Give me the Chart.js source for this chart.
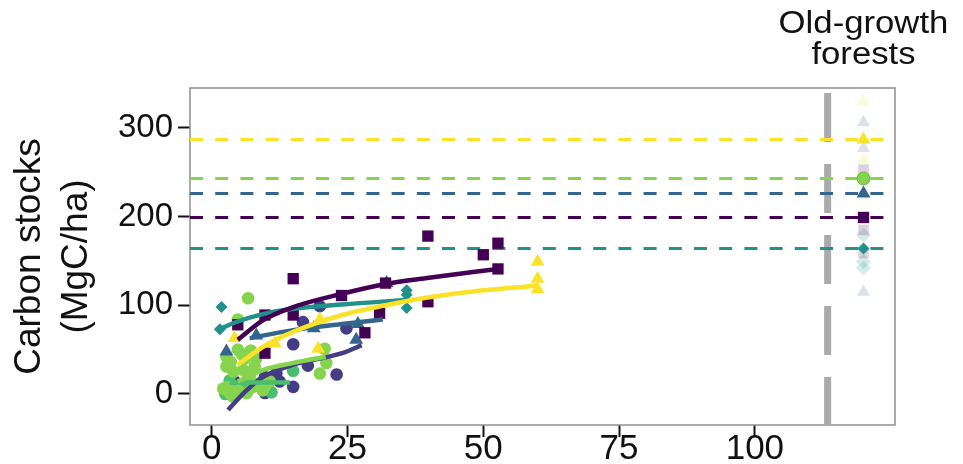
<!DOCTYPE html>
<html>

<head>
  <title>Carbon stocks in secondary vs old-growth forests</title>
  <script src="https://cdn.jsdelivr.net/npm/chart.js"></script>
  <style>
    html, body { margin: 0; padding: 0; background: #fff; }
  </style>
</head>

<body>
  <canvas id="stocks" width="963" height="464"></canvas>
  <script>
    // axes
    const xTicks = [0, 25, 50, 75, 100];
    const yTicks = [0, 100, 200, 300];
    const xRange = [-4, 125.8];
    const yRange = [-35, 345];

    // secondary forest plots (stand age, carbon stock)
    const purpleX = [4.8, 9.8, 9.8, 15, 15, 23.9, 28.2, 30.9, 32, 39.8, 39.8, 50, 52.7, 52.7];
    const purpleY = [78, 89, 46, 130, 89, 111, 69, 91, 125, 104, 178, 157, 170, 141];
    const indigoX = [4.2, 6.4, 7.9, 9.8, 9.8, 11.9, 12.5, 15, 15, 16.8, 17.7, 19.9, 23, 24.8];
    const indigoY = [14, 2, 10, 1, 19, 23, 14, 8, 56, 81, 32, 99, 22, 74];
    const blueX = [2.7, 8.2, 18.8, 26.6, 26.9, 32.2];
    const blueY = [48, 66, 74, 61, 79, 125];
    const tealX = [1.5, 1.8, 35.9, 35.9, 35.9];
    const tealY = [73, 98, 97, 112, 117];
    const midGreenX = [2.5, 3.3, 5.5, 11, 15];
    const midGreenY = [0, 15, 9, 2, 26];
    const greenX = [2.1, 2.7, 2.7, 3, 3.3, 3.5, 3.9, 4, 4.8, 4.8, 4.8, 5.5, 5.8, 6.1, 6.4, 6.5, 6.7, 7, 7.2,
      7.6, 7.9, 8.2, 8.8, 9.4, 9.8, 10.7, 19.9, 20.8, 21.1];
    const greenY = [6, 42, 31, 8, 1, 36, -3, 25, 84, 50, 4, 45, 27, 40, 1, 24, 108, 19, 49,
      8, 31, 40, 12, 4, 9, 14, 23, 51, 35];
    const yellowX = [4.2, 11.6, 19.6, 19.9, 60, 60, 60];
    const yellowY = [63, 57, 51, 84, 118, 130, 149];

    // fitted recovery curves
    const purpleFitX = [4.8, 9.4, 15, 24, 32, 40, 52.7];
    const purpleFitY = [61, 83, 98, 113, 124, 131, 141];
    const indigoFitX = [3, 6.4, 9.4, 15, 24, 27.6];
    const indigoFitY = [-18, 4, 19, 33, 46, 55];
    const blueFitX = [7, 15, 24, 31.5];
    const blueFitY = [63, 72, 79, 84];
    const tealFitX = [1.5, 4, 9.4, 15, 24, 36];
    const tealFitY = [73, 80, 90, 96, 101, 106];
    const midGreenFitX = [3.3, 14.4];
    const midGreenFitY = [13, 13];
    const greenFitX = [4.8, 9.4, 15, 21];
    const greenFitY = [14, 27, 35, 42];
    const yellowFitX = [4.8, 9.4, 15, 24, 32, 40, 50, 60];
    const yellowFitY = [33, 53, 70, 89, 100, 109, 117, 122];

    // old-growth reference forests
    const oldGrowthX = 120;
    const dividerX = 113.4;
    const oldGrowthMeans = [287, 243, 226, 199, 164]; // yellow, green, blue, purple, teal
    const oldYellowSites = [330, 264];
    const oldBlueSites = [306, 277, 115];
    const oldPurpleSites = [253, 185, 159];
    const oldTealSites = [179, 149, 142];
    const oldGrowthTitle = ['Old-growth', 'forests'];

    const FONT = '"Liberation Sans", Arial, sans-serif';
    const pts = (xs, ys) => xs.map((x, i) => ({ x: x, y: ys[i] }));
    const col = { yellow: '#fae228', green: '#86d44e', midGreen: '#48be6e', blue: '#33658d', purple: '#440154', teal: '#22908b', indigo: '#433d85' };
    const meanColors = [col.yellow, col.green, col.blue, col.purple, col.teal];
    const meanStyles = ['triangle', 'circle', 'triangle', 'rect', 'rectRot'];
    const meanRadius = [8, 6.5, 8, 8, 6];
    const fade = (hex, a) => {
      const n = parseInt(hex.slice(1), 16);
      return `rgba(${n >> 16},${(n >> 8) & 255},${n & 255},${a})`;
    };

    const datasets = [];

    // divider between secondary and old-growth forests
    datasets.push({
      data: [{ x: dividerX, y: yRange[1] }, { x: dividerX, y: yRange[0] }],
      showLine: true, borderColor: '#aaaaaa', borderWidth: 7, borderDash: [49, 22], borderDashOffset: 66,
      pointRadius: 0, order: 9
    });

    // dashed lines at the old-growth means
    oldGrowthMeans.forEach((v, i) => {
      datasets.push({
        data: [{ x: xRange[0], y: v }, { x: xRange[1], y: v }],
        showLine: true, borderColor: meanColors[i], borderWidth: 3, borderDash: [13, 12.2],
        pointRadius: 0, order: 8
      });
    });

    // plot markers
    const groups = [
      [indigoX, indigoY, col.indigo, 'circle', 6.3],
      [midGreenX, midGreenY, col.midGreen, 'circle', 6.3],
      [greenX, greenY, col.green, 'circle', 6.3],
      [tealX, tealY, col.teal, 'rectRot', 6],
      [blueX, blueY, col.blue, 'triangle', 8],
      [purpleX, purpleY, col.purple, 'rect', 8],
      [yellowX, yellowY, col.yellow, 'triangle', 8]
    ];
    groups.forEach((g, i) => {
      datasets.push({
        data: pts(g[0], g[1]), pointStyle: g[3], pointRadius: g[4],
        pointBackgroundColor: g[2], pointBorderColor: g[2], pointBorderWidth: 0, order: 7 - i * 0.1
      });
    });

    // fitted curves
    const fits = [
      [indigoFitX, indigoFitY, col.indigo],
      [midGreenFitX, midGreenFitY, col.midGreen],
      [greenFitX, greenFitY, col.green],
      [tealFitX, tealFitY, col.teal],
      [blueFitX, blueFitY, col.blue],
      [purpleFitX, purpleFitY, col.purple],
      [yellowFitX, yellowFitY, col.yellow]
    ];
    fits.forEach((f, i) => {
      datasets.push({
        data: pts(f[0], f[1]), showLine: true, borderColor: f[2], borderWidth: 4.5,
        cubicInterpolationMode: 'monotone', pointRadius: 0, order: 5 - i * 0.1
      });
    });

    // old-growth sites (faded) and means
    [[oldYellowSites, col.yellow, 'triangle'], [oldBlueSites, col.blue, 'triangle'],
     [oldPurpleSites, col.purple, 'rect'], [oldTealSites, col.teal, 'rectRot']].forEach(s => {
      datasets.push({
        data: s[0].map(v => ({ x: oldGrowthX, y: v })), pointStyle: s[2], pointRadius: 7.5,
        pointBackgroundColor: fade(s[1], 0.18), pointBorderWidth: 0, order: 2
      });
    });
    oldGrowthMeans.forEach((v, i) => {
      datasets.push({
        data: [{ x: oldGrowthX, y: v }], pointStyle: meanStyles[i], pointRadius: meanRadius[i],
        pointBackgroundColor: meanColors[i], pointBorderColor: i === 1 ? '#6cb843' : meanColors[i],
        pointBorderWidth: i === 1 ? 1 : 0, order: 1
      });
    });

    const frame = {
      id: 'frame',
      beforeDatasetsDraw(chart) {
        const a = chart.chartArea, ctx = chart.ctx;
        ctx.save();
        ctx.strokeStyle = '#8f8f8f';
        ctx.lineWidth = 1.5;
        ctx.strokeRect(a.left, a.top, a.right - a.left, a.bottom - a.top);
        ctx.restore();
      }
    };

    const oldGrowthLabel = {
      id: 'oldGrowthLabel',
      afterDraw(chart) {
        const ctx = chart.ctx;
        const cx = chart.scales.x.getPixelForValue(oldGrowthX);
        ctx.save();
        ctx.fillStyle = '#111';
        ctx.font = '31px ' + FONT;
        ctx.textAlign = 'center';
        ctx.textBaseline = 'alphabetic';
        oldGrowthTitle.forEach((t, i) => {
          ctx.save();
          ctx.translate(cx, 33 + i * 31);
          ctx.scale(1.12, 1);
          ctx.fillText(t, 0, 0);
          ctx.restore();
        });
        ctx.restore();
      }
    };

    new Chart(document.getElementById('stocks'), {
      type: 'scatter',
      data: { datasets: datasets },
      options: {
        responsive: false,
        animation: false,
        layout: { padding: { top: 88, right: 68, left: 0, bottom: 0 } },
        plugins: { legend: { display: false }, tooltip: { enabled: false } },
        scales: {
          x: {
            type: 'linear', min: xRange[0], max: xRange[1],
            afterBuildTicks: s => { s.ticks = xTicks.map(v => ({ value: v })); },
            afterFit: s => { s.height = 39; },
            border: { display: false },
            grid: { drawOnChartArea: false, drawTicks: true, tickLength: 12, tickColor: '#111', tickWidth: 2 },
            ticks: { color: '#111', padding: -5, font: { family: FONT, size: 35, lineHeight: 1 } }
          },
          y: {
            type: 'linear', min: yRange[0], max: yRange[1],
            afterBuildTicks: s => { s.ticks = yTicks.map(v => ({ value: v })); },
            afterFit: s => { s.width = 190; },
            border: { display: false },
            grid: { drawOnChartArea: false, drawTicks: true, tickLength: 12, tickColor: '#111', tickWidth: 2 },
            ticks: { color: '#111', padding: 5, font: { family: FONT, size: 33 } },
            title: {
              display: true, text: ['Carbon stocks', '(MgC/ha)'], color: '#111',
              font: { family: FONT, size: 37, lineHeight: 1.27 }, padding: { top: 6, bottom: 0 }
            }
          }
        }
      },
      plugins: [frame, oldGrowthLabel]
    });
  </script>
</body>

</html>
